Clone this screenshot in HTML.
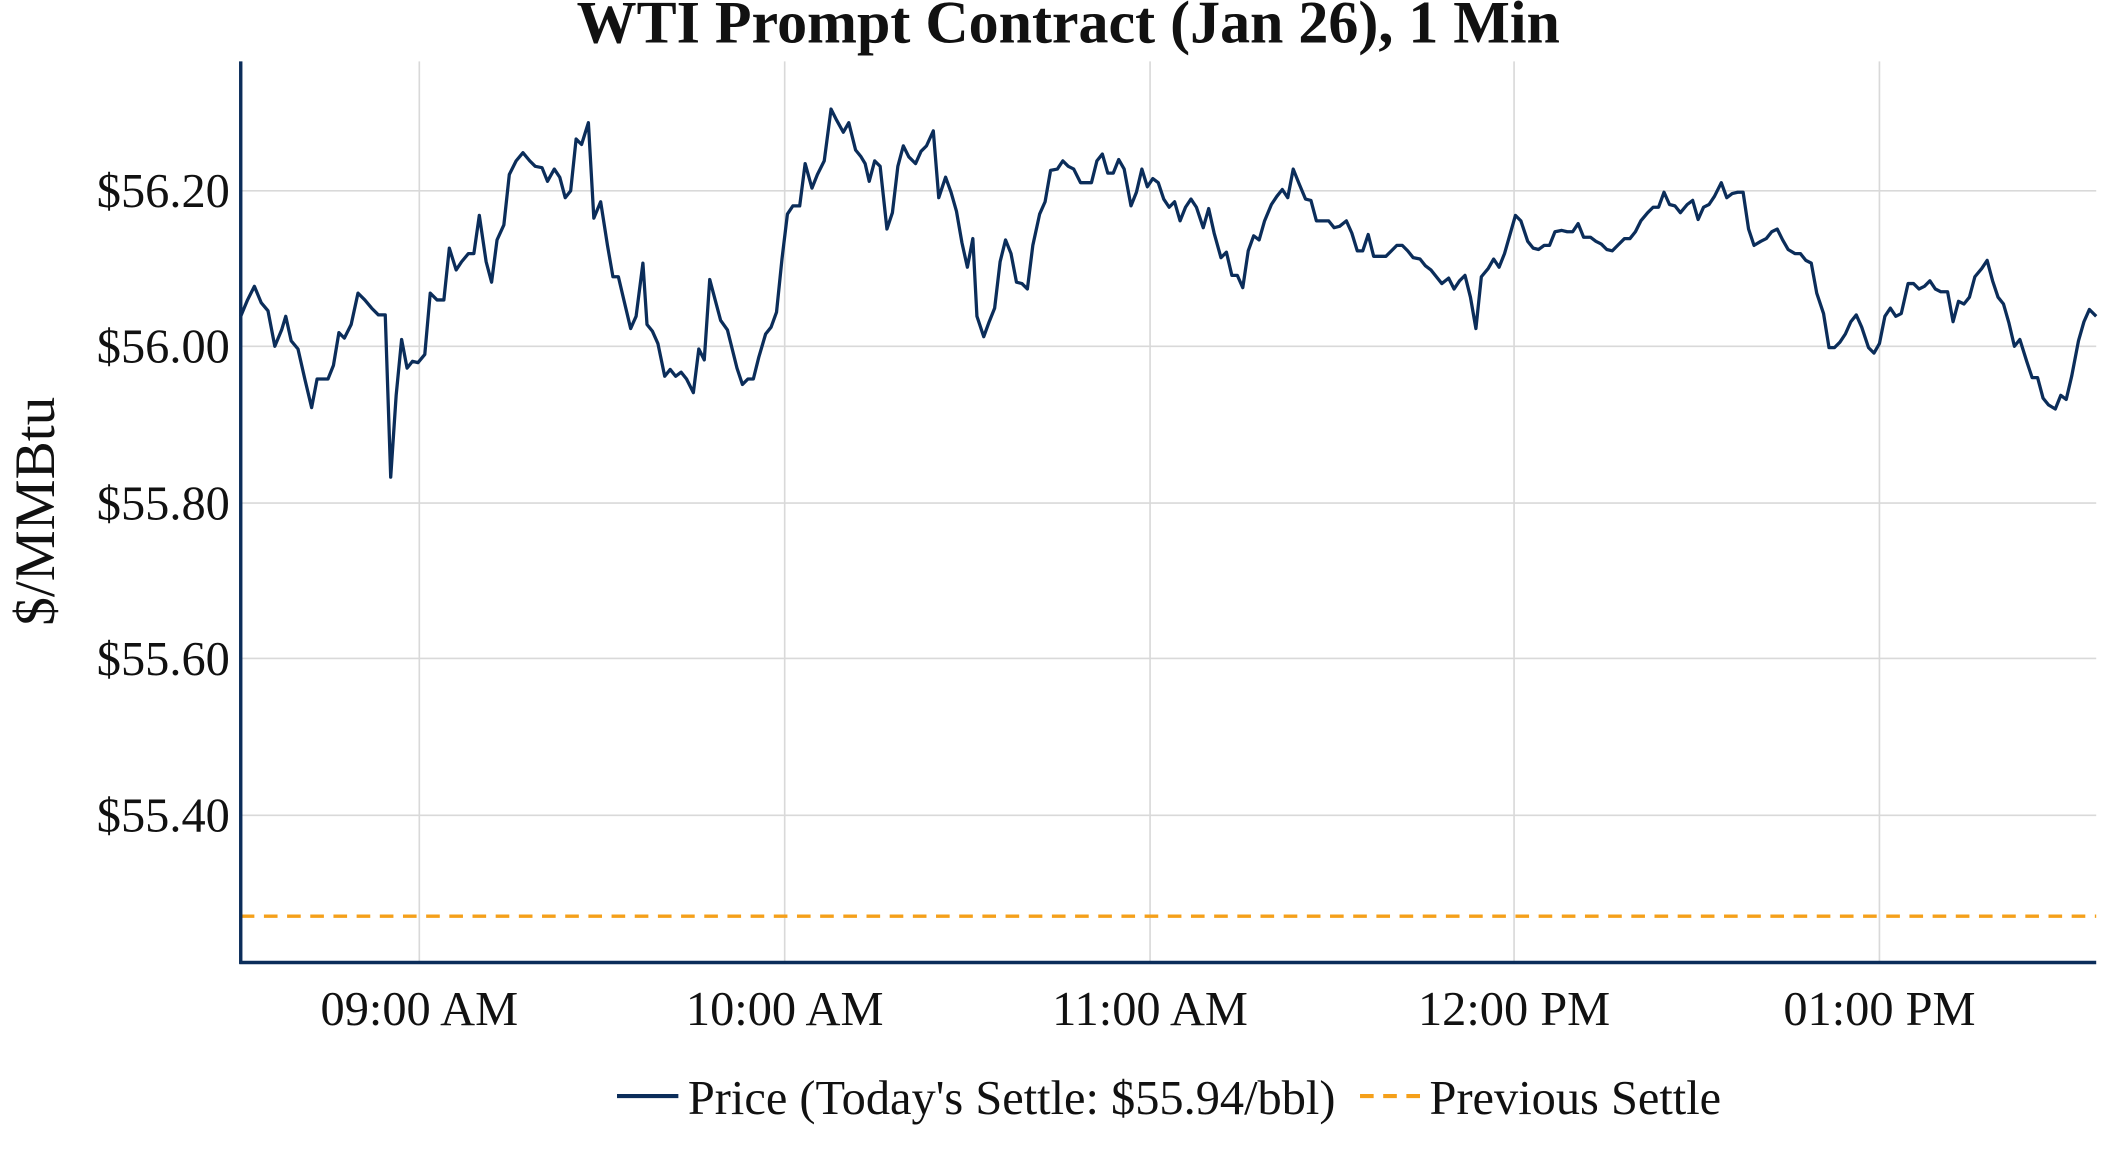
<!DOCTYPE html>
<html><head><meta charset="utf-8"><style>html,body{margin:0;padding:0;background:#fff}svg{display:block}</style></head><body>
<svg width="2112" height="1152" viewBox="0 0 1548 845" xmlns="http://www.w3.org/2000/svg" font-family="Liberation Serif, serif">
<rect width="1548" height="845" fill="#fff"/>
<g stroke="#d9d9d9" stroke-width="1.2">
<line x1="176" x2="1537" y1="140" y2="140"/><line x1="176" x2="1537" y1="254" y2="254"/><line x1="176" x2="1537" y1="369" y2="369"/><line x1="176" x2="1537" y1="483" y2="483"/><line x1="176" x2="1537" y1="598" y2="598"/>
<line x1="307" x2="307" y1="45" y2="706"/><line x1="575" x2="575" y1="45" y2="706"/><line x1="843" x2="843" y1="45" y2="706"/><line x1="1110" x2="1110" y1="45" y2="706"/><line x1="1378" x2="1378" y1="45" y2="706"/>
</g>
<line x1="176" x2="1537" y1="672" y2="672" stroke="#f5a01a" stroke-width="2.5" stroke-dasharray="10,7"/>
<polyline fill="none" stroke="#0b2d5a" stroke-width="2.4" stroke-linejoin="round" points="176,232 181,220 186,210 191,222 196,228 201,254 206,242 209,232 213,250 218,256 223,278 228,299 232,278 236,278 240,278 244,268 248,244 252,248 257,238 262,215 267,220 272,226 277,231 282,231 286,350 290,290 294,249 298,270 302,265 306,266 311,260 315,215 320,220 325,220 329,182 334,198 338,192 343,186 347,186 351,158 356,192 360,207 364,176 369,165 373,128 378,118 383,112 388,118 392,122 397,123 401,133 406,124 410,130 414,145 418,140 422,102 426,106 431,90 435,160 440,148 445,180 449,203 453,203 457,220 462,241 466,232 471,193 474,238 478,243 482,252 487,276 491,271 495,276 499,273 503,278 508,288 512,256 516,264 520,205 524,220 528,235 533,242 537,258 540,270 544,282 548,278 552,278 556,262 561,245 565,240 569,229 573,190 577,157 581,151 586,151 590,120 595,138 599,128 604,118 609,80 613,88 618,97 622,90 627,110 631,115 634,120 637,133 641,118 645,122 650,168 654,156 658,122 662,107 666,115 671,120 675,111 679,107 684,96 688,145 693,130 697,141 701,155 705,178 709,196 713,175 716,232 721,247 725,236 729,226 733,192 737,176 741,186 745,207 749,208 753,212 757,180 762,157 766,148 770,125 775,124 779,118 783,122 787,124 792,134 796,134 800,134 804,118 808,113 812,127 816,127 820,117 824,124 829,151 833,141 837,124 841,137 845,131 849,134 853,146 857,152 861,148 865,162 869,152 873,146 877,152 882,167 886,153 890,171 895,189 899,185 903,202 907,202 911,211 915,184 919,173 923,176 927,162 932,150 936,144 940,139 944,145 948,124 952,134 957,146 961,147 965,162 969,162 974,162 978,167 982,166 987,162 991,171 995,184 999,184 1003,172 1007,188 1012,188 1016,188 1020,184 1024,180 1028,180 1032,184 1036,189 1041,190 1045,195 1049,198 1053,203 1057,208 1062,204 1066,212 1070,206 1074,202 1078,218 1082,241 1086,203 1091,197 1095,190 1099,196 1103,186 1107,172 1111,158 1115,162 1120,177 1124,182 1128,183 1132,180 1136,180 1140,170 1145,169 1149,170 1153,170 1157,164 1161,174 1166,174 1170,177 1174,179 1178,183 1182,184 1186,180 1191,175 1195,175 1199,170 1203,162 1208,156 1212,152 1216,152 1220,141 1224,150 1228,151 1232,156 1237,150 1241,147 1245,161 1249,152 1253,150 1257,144 1262,134 1266,145 1270,142 1274,141 1278,141 1282,168 1286,180 1291,177 1295,175 1299,170 1303,168 1307,176 1311,183 1316,186 1320,186 1324,191 1328,193 1332,215 1337,230 1341,255 1345,255 1349,251 1353,245 1357,236 1361,231 1365,240 1370,255 1374,259 1378,252 1382,232 1386,226 1390,232 1394,230 1399,208 1403,208 1407,212 1411,210 1415,206 1419,212 1423,214 1428,214 1432,236 1436,221 1440,223 1444,218 1448,203 1453,197 1457,191 1461,206 1465,218 1469,223 1473,237 1477,254 1481,249 1486,265 1490,277 1494,277 1498,292 1502,297 1507,300 1511,290 1515,293 1519,276 1524,250 1528,236 1532,227 1537,232"/>
<line x1="176" x2="176" y1="45" y2="707" stroke="#0b2d5a" stroke-width="2.5"/>
<line x1="175" x2="1537" y1="706" y2="706" stroke="#0b2d5a" stroke-width="2.5"/>
<g font-size="35.5" fill="#111" text-anchor="end">
<text x="168" y="152">$56.20</text><text x="168" y="266">$56.00</text><text x="168" y="381">$55.80</text><text x="168" y="495">$55.60</text><text x="168" y="610">$55.40</text>
</g>
<g font-size="35.5" fill="#111" text-anchor="middle">
<text x="307" y="752">09:00 AM</text><text x="575" y="752">10:00 AM</text><text x="843" y="752">11:00 AM</text><text x="1110" y="752">12:00 PM</text><text x="1378" y="752">01:00 PM</text>
</g>
<text x="783" y="31" font-size="44" font-weight="bold" text-anchor="middle" fill="#111">WTI Prompt Contract (Jan 26), 1 Min</text>
<text transform="translate(39,375) rotate(-90)" font-size="42" text-anchor="middle" fill="#111">$/MMBtu</text>
<line x1="452" x2="497" y1="804" y2="804" stroke="#0b2d5a" stroke-width="3"/>
<text x="504" y="817" font-size="35.5" fill="#111">Price (Today's Settle: $55.94/bbl)</text>
<line x1="997" x2="1041" y1="804" y2="804" stroke="#f5a01a" stroke-width="3" stroke-dasharray="10,7"/>
<text x="1048" y="817" font-size="35.5" fill="#111">Previous Settle</text>
</svg>
</body></html>
